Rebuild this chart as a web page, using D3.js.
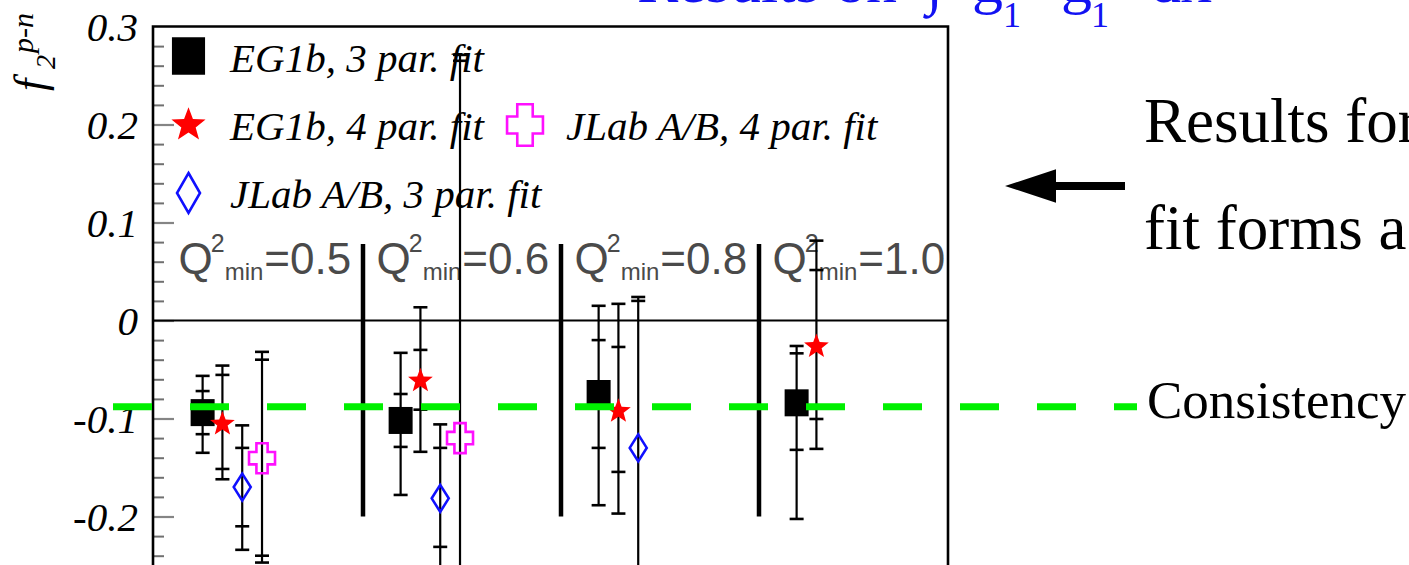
<!DOCTYPE html>
<html>
<head>
<meta charset="utf-8">
<script src="https://cdn.jsdelivr.net/npm/d3@7"></script>
<style>
  html, body { margin: 0; padding: 0; background: #fff; overflow: hidden; }
  svg { display: block; }
</style>
</head>
<body>
<svg id="chart" width="1409" height="565"></svg>
<script>
// Q²_min cuts, one panel each
const groups = ["0.5", "0.6", "0.8", "1.0"];

// EG1b, 3-parameter fit: f2(p-n), inner (stat) and outer (total) error bounds
const eg1b3Values = [-0.094, -0.102, -0.0745, -0.084];
const eg1b3Stat   = [[-0.116, -0.072], [-0.129, -0.075], [-0.130, -0.020], [-0.132, -0.0335]];
const eg1b3Total  = [[-0.135, -0.0565], [-0.178, -0.033], [-0.1885, 0.015], [-0.2025, -0.026]];

// EG1b, 4-parameter fit
const eg1b4Values = [-0.104, -0.060, -0.091, -0.025];
const eg1b4Stat   = [[-0.1515, -0.0555], [-0.091, -0.030], [-0.1545, -0.027], [-0.1005, 0.0515]];
const eg1b4Total  = [[-0.162, -0.046], [-0.134, 0.0135], [-0.197, 0.017], [-0.131, 0.0815]];

// JLab A/B, 3-parameter fit (no result for the last cut)
const jlab3Values = [-0.170, -0.1815, -0.130, null];
const jlab3Stat   = [[-0.210, -0.130], [-0.231, -0.130], [-0.281, 0.020], null];
const jlab3Total  = [[-0.234, -0.107], [-0.257, -0.106], [-0.285, 0.024], null];

// JLab A/B, 4-parameter fit (first two cuts only)
const jlab4Values = [-0.1405, -0.120, null, null];
const jlab4Stat   = [[-0.240, -0.040], [-0.505, 0.265], null, null];
const jlab4Total  = [[-0.247, -0.032], [-0.511, 0.271], null, null];

// level shared by the fits
const consistencyValue = -0.088;

const yMajorTicks = [-0.2, -0.1, 0, 0.1, 0.2, 0.3];
const yTickLabels = ["-0.2", "-0.1", "0", "0.1", "0.2", "0.3"];

const SERIF = "'Liberation Serif', 'Times New Roman', Times, serif";
const SANS = "'Liberation Sans', Arial, Helvetica, sans-serif";

const series = [
  { name: "EG1b, 3 par. fit",     values: eg1b3Values, stat: eg1b3Stat, total: eg1b3Total, marker: "square",  color: "#000000" },
  { name: "EG1b, 4 par. fit",     values: eg1b4Values, stat: eg1b4Stat, total: eg1b4Total, marker: "star",    color: "#ff0000" },
  { name: "JLab A/B, 3 par. fit", values: jlab3Values, stat: jlab3Stat, total: jlab3Total, marker: "diamond", color: "#1010ff" },
  { name: "JLab A/B, 4 par. fit", values: jlab4Values, stat: jlab4Stat, total: jlab4Total, marker: "cross",   color: "#ff10ff" }
];
// horizontal offset of each fit inside its Q²_min panel
const seriesOffset = [0.19, 0.29, 0.39, 0.49];

const svg = d3.select("#chart");
const frame = { left: 153, right: 948, top: 26.5, bottom: 570 };

const y = d3.scaleLinear().domain([-0.25, 0.3]).range([565.5, 26.5]);
const x = d3.scaleLinear().domain([0, groups.length]).range([165, 957]);

// ---- marker shapes ----
function markerPath(type, s) {
  if (type === "square") {
    const w = 12 * s, h = 13.5 * s;
    return `M${-w},${-h}H${w}V${h}H${-w}Z`;
  }
  if (type === "star") {
    const R = 13 * s, r = R * 0.42;
    const pts = d3.range(10).map(k => {
      const a = -Math.PI / 2 + k * Math.PI / 5;
      const rr = k % 2 === 0 ? R : r;
      return [rr * Math.cos(a), rr * Math.sin(a) + 1.5 * s];
    });
    return "M" + pts.map(p => p.join(",")).join("L") + "Z";
  }
  if (type === "diamond") {
    const w = (s > 1 ? 11.5 : 8.5), h = (s > 1 ? 20 : 13.5);
    return `M0,${-h}L${w},0L0,${h}L${-w},0Z`;
  }
  // open cross
  const W = 13 * s, Hh = 15 * s, a = 5.6 * s, b = 6.2 * s;
  return `M${-a},${-Hh}L${a},${-Hh}L${a},${-b}L${W},${-b}L${W},${b}L${a},${b}L${a},${Hh}L${-a},${Hh}L${-a},${b}L${-W},${b}L${-W},${-b}L${-a},${-b}Z`;
}
function styleMarker(sel, d) {
  const open = d.marker === "diamond" || d.marker === "cross";
  sel.attr("fill", open ? "none" : d.color)
     .attr("stroke", open ? d.color : "none")
     .attr("stroke-width", open ? 2.6 : 0)
     .attr("stroke-linejoin", "miter");
}

// ---- y axis: labels outside, ticks inside the frame ----
const yLabelAxis = d3.axisLeft(y)
  .tickValues(yMajorTicks)
  .tickSize(0)
  .tickPadding(15)
  .tickFormat((d, i) => yTickLabels[i]);
const gLabels = svg.append("g").attr("transform", `translate(${frame.left},0)`).call(yLabelAxis);
gLabels.select(".domain").remove();
gLabels.selectAll("text")
  .attr("font-family", SERIF)
  .attr("font-style", "italic")
  .attr("font-size", 41)
  .attr("fill", "#000")
  .attr("dy", "0.33em");

const minorTicks = d3.range(-12, 15).map(k => k * 0.02)
  .filter(v => Math.abs(Math.round(v * 10) - v * 10) > 1e-6);
const gMinor = svg.append("g").attr("transform", `translate(${frame.left},0)`)
  .call(d3.axisRight(y).tickValues(minorTicks).tickSize(11).tickFormat(""));
gMinor.select(".domain").remove();
gMinor.selectAll("line").attr("stroke", "#707070").attr("stroke-width", 2);

const gMajor = svg.append("g").attr("transform", `translate(${frame.left},0)`)
  .call(d3.axisRight(y).tickValues(yMajorTicks.filter(v => v < 0.3)).tickSize(21).tickFormat(""));
gMajor.select(".domain").remove();
gMajor.selectAll("line").attr("stroke", "#858585").attr("stroke-width", 2.2);

// ---- frame ----
svg.append("path")
  .attr("d", `M${frame.left},${frame.bottom}V${frame.top}H${frame.right}V${frame.bottom}`)
  .attr("fill", "none").attr("stroke", "#000").attr("stroke-width", 2.6);

// zero line
svg.append("line")
  .attr("x1", frame.left).attr("x2", frame.right)
  .attr("y1", y(0)).attr("y2", y(0))
  .attr("stroke", "#000").attr("stroke-width", 2.2);

// ---- y axis title f_2^{p-n} ----
const yTitle = svg.append("text")
  .attr("transform", "translate(45,91) rotate(-90)")
  .attr("font-family", SERIF).attr("font-style", "italic").attr("fill", "#000");
yTitle.append("tspan").attr("x", 0).attr("y", 0).attr("font-size", 44).text("f");
yTitle.append("tspan").attr("x", 22).attr("y", 10).attr("font-size", 28).text("2");
yTitle.append("tspan").attr("x", 38).attr("y", -12).attr("font-size", 30).text("p-n");

// ---- legend ----
const legendRows = [
  { s: 0, cx: 188.5, cy: 56,  tx: 230, ty: 72 },
  { s: 1, cx: 188.5, cy: 123, tx: 230, ty: 140 },
  { s: 3, cx: 525,   cy: 125, tx: 566, ty: 140 },
  { s: 2, cx: 188.5, cy: 193, tx: 230, ty: 208 }
];
const gLegend = svg.append("g");
legendRows.forEach(r => {
  const d = series[r.s];
  gLegend.append("path")
    .attr("transform", `translate(${r.cx},${r.cy})`)
    .attr("d", markerPath(d.marker, 1.38))
    .call(styleMarker, d);
  gLegend.append("text")
    .attr("x", r.tx).attr("y", r.ty)
    .attr("font-family", SERIF).attr("font-style", "italic").attr("font-size", 41)
    .attr("fill", "#000")
    .text(d.name);
});

// ---- Q²_min panel labels and separators ----
const gQ = svg.append("g").attr("fill", "#4a4a4a").attr("font-family", SANS);
groups.forEach((g, i) => {
  const x0 = x(i) + 13.5, base = 274;
  const q = gQ.append("text").attr("x", x0).attr("y", base).attr("font-size", 44).text("Q");
  const wq = q.node().getComputedTextLength();
  const sup = gQ.append("text").attr("x", x0 + wq - 2).attr("y", base - 22).attr("font-size", 25).text("2");
  const ws = sup.node().getComputedTextLength();
  const sub = gQ.append("text").attr("x", x0 + wq - 2 + ws).attr("y", base + 6).attr("font-size", 24).text("min");
  const wm = sub.node().getComputedTextLength();
  gQ.append("text").attr("x", x0 + wq - 2 + ws + wm + 1).attr("y", base)
    .attr("font-size", 44).text("=" + g);
});

svg.append("g").selectAll("line")
  .data(d3.range(1, groups.length))
  .join("line")
  .attr("x1", d => x(d)).attr("x2", d => x(d))
  .attr("y1", y(0.078)).attr("y2", y(-0.2))
  .attr("stroke", "#000").attr("stroke-width", 4.5);

// ---- error bars and markers ----
const capHalf = 7;
const gData = svg.append("g");
series.forEach((d, si) => {
  d.values.forEach((v, gi) => {
    if (v === null) return;
    const px = x(gi + seriesOffset[si]);
    const tot = d.total[gi], st = d.stat[gi];
    gData.append("line")
      .attr("x1", px).attr("x2", px)
      .attr("y1", y(tot[0])).attr("y2", y(tot[1]))
      .attr("stroke", "#000").attr("stroke-width", 2.2);
    [tot[0], tot[1], st[0], st[1]].forEach(e => {
      gData.append("line")
        .attr("x1", px - capHalf).attr("x2", px + capHalf)
        .attr("y1", y(e)).attr("y2", y(e))
        .attr("stroke", "#000").attr("stroke-width", 2.6);
    });
  });
});
series.forEach((d, si) => {
  d.values.forEach((v, gi) => {
    if (v === null) return;
    gData.append("path")
      .attr("transform", `translate(${x(gi + seriesOffset[si])},${y(v)})`)
      .attr("d", markerPath(d.marker, 1))
      .call(styleMarker, d);
  });
});

// ---- consistency level ----
svg.append("line")
  .attr("x1", 113).attr("x2", 1137)
  .attr("y1", y(consistencyValue)).attr("y2", y(consistencyValue))
  .attr("stroke", "#00f000").attr("stroke-width", 7)
  .attr("stroke-dasharray", "39 38");

// ---- heading (blue) ----
const head = svg.append("g").attr("fill", "#1212f2").attr("font-family", SERIF);
head.append("text").attr("x", 637).attr("y", 2).attr("font-size", 62).text("Results on");
head.append("text").attr("x", 926).attr("y", 2).attr("font-size", 62)
  .attr("font-style", "italic").attr("font-weight", "bold").text("\u222B");
head.append("text").attr("x", 972).attr("y", 2).attr("font-size", 62).text("g");
head.append("text").attr("x", 1003).attr("y", 27).attr("font-size", 36).text("1");
head.append("text").attr("x", 1061).attr("y", 2).attr("font-size", 62).text("g");
head.append("text").attr("x", 1091).attr("y", 27).attr("font-size", 36).text("1");
head.append("text").attr("x", 1150).attr("y", 2).attr("font-size", 62).text("dx");

// ---- annotations on the right ----
const note = svg.append("g").attr("fill", "#000").attr("font-family", SERIF);
note.append("text").attr("x", 1144).attr("y", 142).attr("font-size", 63).text("Results for");
note.append("text").attr("x", 1144).attr("y", 249).attr("font-size", 63).text("fit forms a");
note.append("text").attr("x", 1147).attr("y", 418).attr("font-size", 53).text("Consistency");

svg.append("path")
  .attr("d", "M1005,186L1056,169.2V182H1125V190H1056V202.8Z")
  .attr("fill", "#000");
</script>
</body>
</html>
